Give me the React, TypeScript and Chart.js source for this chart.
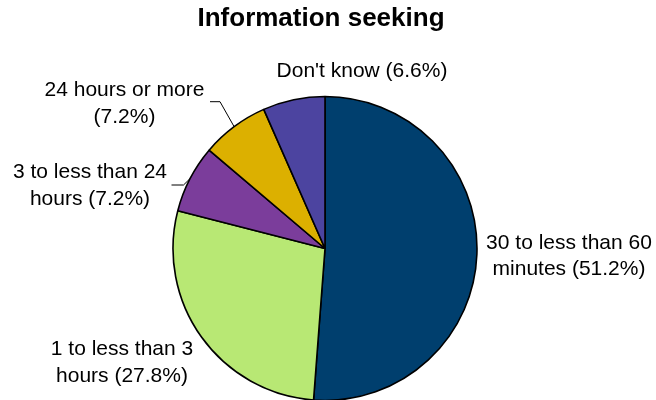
import React, { useEffect, useRef } from "react";
import { Chart, registerables } from "chart.js";

Chart.register(...registerables);

const TITLE = "Information seeking";
const categories = [
  "30 to less than 60 minutes",
  "1 to less than 3 hours",
  "3 to less than 24 hours",
  "24 hours or more",
  "Don't know",
];
const values = [51.2, 27.8, 7.2, 7.2, 6.6];
const colors = ["#003f6e", "#b8e874", "#7b3d9b", "#dcb000", "#4c44a0"];
// where each category label wraps (first line / rest)
const categoryFirstLine = [
  "30 to less than 60",
  "1 to less than 3",
  "3 to less than 24",
  "24 hours or more",
  "Don't know",
];

const FONT = "'Liberation Sans', Arial, Helvetica, sans-serif";
const LINE_H = 26.5;

// label text offsets relative to pie centre (layout only)
const LABEL_POS = [
  { dx: 244, dy: 0 },
  { dx: -203, dy: 106.5 },
  { dx: -235, dy: -70.5 },
  { dx: -200.5, dy: -152.5 },
  { dx: 37, dy: -171.8 },
];
// leader lines (two points relative to centre, then to slice edge)
const LEADERS: (number[][] | null)[] = [
  null,
  null,
  [
    [-153.5, -63.5],
    [-141.5, -63.5],
  ],
  [
    [-115, -146.8],
    [-105, -146.8],
  ],
  null,
];

function labelLines(i: number): string[] {
  const cat = categories[i];
  const first = categoryFirstLine[i];
  const rest = cat.slice(first.length).trim();
  const pct = `(${values[i].toFixed(1)}%)`;
  if (first === cat) {
    if (i === 4) return [`${cat} ${pct}`];
    return [cat, pct];
  }
  return [first, `${rest} ${pct}`];
}

const labelPlugin = {
  id: "pieLabels",
  afterDraw(chart: any) {
    const ctx = chart.ctx as CanvasRenderingContext2D;
    const meta = chart.getDatasetMeta(0);
    const a0: any = meta.data[0];
    const cx = a0.x;
    const cy = a0.y;
    const r = a0.outerRadius;
    ctx.save();
    ctx.fillStyle = "#000";
    ctx.textAlign = "center";
    ctx.textBaseline = "alphabetic";
    ctx.font = `bold 26px ${FONT}`;
    ctx.fillText(TITLE, 321, 26);
    ctx.font = `21px ${FONT}`;
    meta.data.forEach((arc: any, i: number) => {
      const p = LABEL_POS[i];
      const lines = labelLines(i);
      lines.forEach((ln, k) => {
        ctx.fillText(ln, cx + p.dx, cy + p.dy + k * LINE_H);
      });
      const ld = LEADERS[i];
      if (ld) {
        const mid = (arc.startAngle + arc.endAngle) / 2;
        const ex = cx + Math.cos(mid) * r;
        const ey = cy + Math.sin(mid) * r;
        ctx.beginPath();
        ctx.strokeStyle = "#000";
        ctx.lineWidth = 1;
        ctx.moveTo(cx + ld[0][0], cy + ld[0][1]);
        ctx.lineTo(cx + ld[1][0], cy + ld[1][1]);
        ctx.lineTo(ex, ey);
        ctx.stroke();
      }
    });
    ctx.restore();
  },
};

export default function App() {
  const ref = useRef<HTMLCanvasElement | null>(null);
  useEffect(() => {
    if (!ref.current) return;
    const chart = new Chart(ref.current, {
      type: "pie",
      data: {
        labels: categories,
        datasets: [
          {
            data: values,
            backgroundColor: colors,
            borderColor: "#000",
            borderWidth: 1.6,
            radius: 152,
          } as any,
        ],
      },
      options: {
        responsive: false,
        animation: false,
        devicePixelRatio: 1,
        layout: { padding: { top: 97, bottom: 0, left: 0, right: 6 } },
        plugins: {
          legend: { display: false },
          title: { display: false },
          tooltip: { enabled: false },
        },
      },
      plugins: [labelPlugin],
    });
    return () => chart.destroy();
  }, []);
  return (
    <div style={{ position: "fixed", left: 0, top: 0, width: 656, height: 400, background: "#fff" }}>
      <canvas ref={ref} width={656} height={400} />
    </div>
  );
}
